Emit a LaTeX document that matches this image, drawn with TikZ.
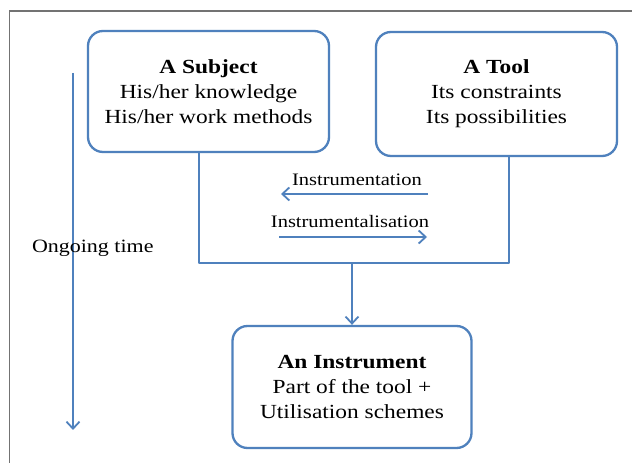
\documentclass[tikz,border=0pt]{standalone}
\usepackage{fontspec}
\setmainfont{Liberation Serif}[FakeStretch=1.17]
\usetikzlibrary{arrows.meta}

\begin{document}
\begin{tikzpicture}[x=1pt,y=1pt,
	box/.style={draw=drawColor,line width=2.3pt,rounded corners=15pt,inner sep=0pt,align=center,font=\fontsize{20}{25}\selectfont},
	link/.style={draw=drawColor,line width=1.8pt,line join=round},
	flow/.style={link,-{Straight Barb[length=7pt,width=13pt]}},
	caption/.style={inner sep=0pt,outer sep=0pt,font=\fontsize{17.5}{20}\selectfont}]
\definecolor{drawColor}{RGB}{79,129,189}
\definecolor{frameColor}{RGB}{115,115,115}
\path[use as bounding box,fill=white] (0,0) rectangle (632,463);

\path[draw=frameColor,line width=1.6pt] (9.5,0) -- (9.5,452) -- (632,452);

\node[box,minimum width=241pt,minimum height=121pt] (subject) at (208.5,371.5) {\textbf{A Subject}\\His/her knowledge\\His/her work methods};

\node[box,minimum width=241pt,minimum height=124pt] (tool) at (496.5,369) {\textbf{A Tool}\\Its constraints\\Its possibilities};

\node[box,minimum width=239pt,minimum height=122pt] (instrument) at (352,76) {\textbf{An Instrument}\\Part of the tool +\\Utilisation schemes};

\coordinate (merge) at (352,200);

\draw[link] ([xshift=-9.5pt]subject.south) |- (merge) -| ([xshift=12.5pt]tool.south);

\draw[flow] (merge) -- (instrument.north);

\coordinate (instr start) at (428,269);
\coordinate (instr end) at (281,269);
\draw[flow] (instr start) -- (instr end);
\node[caption,anchor=base] (instrumentation) at (357,277) {Instrumentation};

\coordinate (instz start) at (279,226);
\coordinate (instz end) at (427,226);
\draw[flow] (instz start) -- (instz end);
\node[caption,anchor=base] (instrumentalisation) at (350,235) {Instrumentalisation};

\coordinate (time start) at (73,390);
\coordinate (time end) at (73,33);
\draw[flow] (time start) -- (time end);
\node[caption,anchor=base west,font=\fontsize{18.8}{22}\selectfont] (time) at (32,210) {Ongoing time};
\end{tikzpicture}
\end{document}
